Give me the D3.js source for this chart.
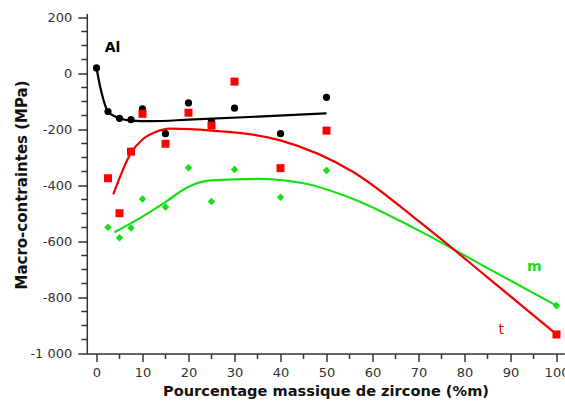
<!DOCTYPE html>
<html>
<head>
<meta charset="utf-8">
<script src="https://cdn.jsdelivr.net/npm/d3@7"></script>
<style>
  html, body { margin: 0; padding: 0; background: #fff; }
  svg { display: block; font-family: "DejaVu Sans", Verdana, sans-serif; }
</style>
</head>
<body>
<svg id="chart" width="565" height="401"></svg>
<script>
// ---- Data ----
// Al (black circles) – no value at 100 %
const alX = [0, 2.5, 5, 7.5, 10, 15, 20, 25, 30, 40, 50];
const alStress = [20, -136, -160, -165, -126, -215, -105, -171, -124, -215, -85];

// tetragonal zirconia t (red squares)
const tX = [2.5, 5, 7.5, 10, 15, 20, 25, 30, 40, 50, 100];
const tStress = [-374, -499, -279, -144, -251, -140, -186, -29, -338, -204, -932];

// monoclinic zirconia m (green diamonds)
const mX = [2.5, 5, 7.5, 10, 15, 20, 25, 30, 40, 50, 100];
const mStress = [-549, -587, -552, -448, -477, -337, -457, -343, -442, -346, -829];

// fitted trend curves
const alFitX = [0, 1, 2.5, 5, 7.5, 12, 20, 35, 50];
const alFitY = [20, -62, -136, -160, -168, -170, -165, -154, -142];

const tFitX = [3.65, 7.6, 10.2, 12.7, 16, 25, 40, 55.8, 70.3, 85, 100];
const tFitY = [-432, -281, -233, -210, -197, -204, -239, -352, -531, -728, -932];

const mFitX = [3.9, 9.8, 14.9, 19.8, 24.9, 35, 45, 55.8, 70.3, 85, 100];
const mFitY = [-567, -513, -460, -406, -382, -376, -392, -448, -563, -695, -829];

const xMajorTicks = [0, 10, 20, 30, 40, 50, 60, 70, 80, 90, 100];
const xMinorTicks = [5, 15, 25, 35, 45, 55, 65, 75, 85, 95];
const yMajorTicks = [200, 0, -200, -400, -600, -800, -1000];
const yMinorTicks = [150, 100, 50, -50, -100, -150, -250, -300, -350, -450, -500, -550,
                     -650, -700, -750, -850, -900, -950];
const yTickLabels = ["200", "0", "-200", "-400", "-600", "-800", "-1 000"];

const xTitle = "Pourcentage massique de zircone (%m)";
const yTitle = "Macro-contraintes (MPa)";

// ---- Chart ----
const svg = d3.select("#chart");
const x = d3.scaleLinear().domain([-2, 101.8]).range([87.3, 564.8]);
const y = d3.scaleLinear().domain([-1000, 200]).range([353.5, 17.5]);

const axisColor = "#333";
const RED = "#f00000";
const GREEN = "#14e014";

// axes
const gx = svg.append("g").attr("transform", `translate(0,${y(-1000) + 0.5})`);
gx.call(d3.axisBottom(x).tickValues(xMajorTicks).tickSize(8).tickSizeOuter(0).tickFormat(d3.format("d")));
gx.append("g").selectAll("line").data(xMinorTicks).join("line")
  .attr("x1", d => x(d)).attr("x2", d => x(d)).attr("y1", 0).attr("y2", 5)
  .attr("stroke", axisColor).attr("stroke-width", 1.5);

const gy = svg.append("g").attr("transform", `translate(${x(-2)},0)`);
gy.call(d3.axisLeft(y).tickValues(yMajorTicks).tickSize(9).tickSizeOuter(0)
  .tickFormat((d, i) => yTickLabels[i]));
gy.append("g").selectAll("line").data(yMinorTicks).join("line")
  .attr("y1", d => y(d)).attr("y2", d => y(d)).attr("x1", 0).attr("x2", -6)
  .attr("stroke", axisColor).attr("stroke-width", 1.5);

[gx, gy].forEach(g => {
  g.select(".domain").attr("stroke", axisColor).attr("stroke-width", 1.5);
  g.selectAll(".tick line").attr("stroke", axisColor).attr("stroke-width", 1.5);
  g.selectAll(".tick text").attr("fill", "#333").style("font-size", "13px")
    .style("font-family", "'DejaVu Sans', Verdana, sans-serif");
});
gx.selectAll(".tick text").attr("dy", "0.95em").attr("y", 11);
gy.selectAll(".tick text").attr("x", -15);
gy.select(".domain").attr("d", `M0,${y(-1000) + 1}V14`);
gx.select(".domain").attr("d", `M${x(-2)},0H${x(101.8)}`);

// titles
svg.append("text").attr("x", 326).attr("y", 396).attr("text-anchor", "middle")
  .style("font-size", "14.6px").style("font-weight", "bold").attr("fill", "#111").text(xTitle);
svg.append("text").attr("transform", `translate(27,${185}) rotate(-90)`).attr("text-anchor", "middle")
  .style("font-size", "15px").style("font-weight", "bold").attr("fill", "#111").text(yTitle);

// fit curves
const line = d3.line().x(d => x(d[0])).y(d => y(d[1])).curve(d3.curveMonotoneX);
const fits = [
  { xs: mFitX, ys: mFitY, color: GREEN },
  { xs: tFitX, ys: tFitY, color: RED },
  { xs: alFitX, ys: alFitY, color: "#000" }
];
fits.forEach(f => {
  svg.append("path").datum(f.xs.map((v, i) => [v, f.ys[i]]))
    .attr("d", line).attr("fill", "none").attr("stroke", f.color).attr("stroke-width", 2.2);
});

// markers
svg.append("g").selectAll("path").data(mX.map((v, i) => [v, mStress[i]])).join("path")
  .attr("d", d3.symbol().type(d3.symbolDiamond2).size(36))
  .attr("transform", d => `translate(${x(d[0])},${y(d[1])})`).attr("fill", GREEN);

svg.append("g").selectAll("circle").data(alX.map((v, i) => [v, alStress[i]])).join("circle")
  .attr("cx", d => x(d[0])).attr("cy", d => y(d[1])).attr("r", 3.6).attr("fill", "#000");

svg.append("g").selectAll("path").data(tX.map((v, i) => [v, tStress[i]])).join("path")
  .attr("d", d3.symbol().type(d3.symbolSquare).size(64))
  .attr("transform", d => `translate(${x(d[0])},${y(d[1])})`).attr("fill", "#ff0000");

// series labels
svg.append("text").attr("x", x(1.8)).attr("y", y(78)).style("font-size", "14px").style("font-weight", "bold")
  .attr("fill", "#000").text("Al");
svg.append("text").attr("x", x(93.6)).attr("y", y(-705)).style("font-size", "14px").style("font-weight", "bold")
  .attr("fill", GREEN).text("m");
svg.append("text").attr("x", x(87.4)).attr("y", y(-930)).style("font-size", "14px")
  .attr("fill", RED).text("t");
</script>
</body>
</html>
